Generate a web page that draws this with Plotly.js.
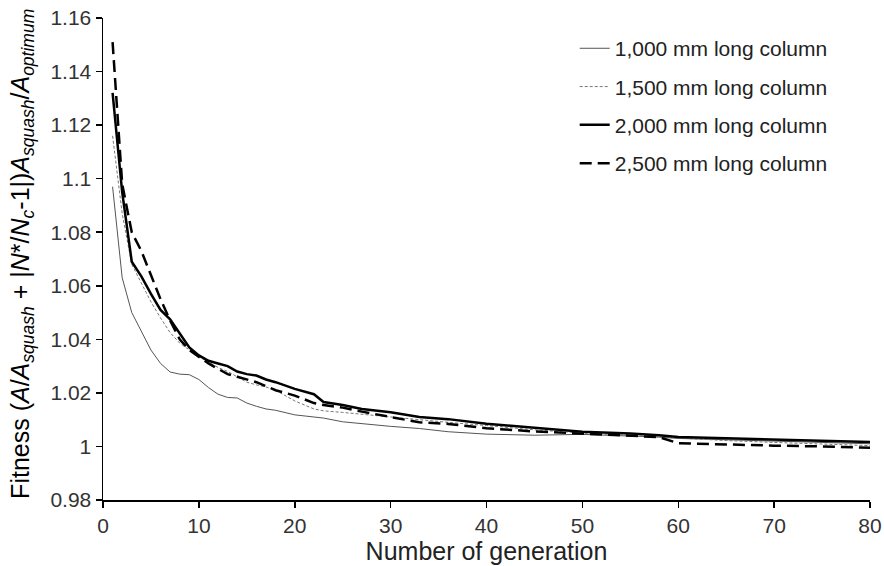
<!DOCTYPE html>
<html>
<head>
<meta charset="utf-8">
<script src="https://cdn.plot.ly/plotly-3.0.1.min.js"></script>
<style>html,body{margin:0;padding:0;background:#fff;}#chart{width:884px;height:566px;}</style>
</head>
<body>
<div id="chart"></div>
<script>
const generations = [1,2,3,4,5,6,7,8,9,10,11,12,13,14,15,16,17,18,20,22,23,25,27,30,33,36,40,45,50,55,58,60,65,70,75,80];
const col1000 = [1.097,1.063,1.050,1.043,1.036,1.031,1.0278,1.027,1.0268,1.025,1.022,1.0195,1.0183,1.0181,1.0162,1.015,1.014,1.0135,1.0118,1.011,1.0106,1.0092,1.0085,1.0075,1.0067,1.0055,1.0046,1.0042,1.0045,1.004,1.0035,1.003,1.0025,1.002,1.0015,1.001];
const col1500 = [1.116,1.087,1.068,1.061,1.054,1.048,1.0425,1.0386,1.036,1.0335,1.0315,1.0295,1.028,1.026,1.024,1.023,1.0222,1.021,1.017,1.014,1.0133,1.0127,1.012,1.0112,1.010,1.009,1.0078,1.0062,1.005,1.004,1.0035,1.003,1.0022,1.0015,1.001,1.0003];
const col2000 = [1.132,1.095,1.069,1.0635,1.057,1.051,1.0475,1.042,1.037,1.034,1.032,1.031,1.030,1.028,1.027,1.0265,1.025,1.024,1.0215,1.0195,1.0166,1.0155,1.014,1.0128,1.011,1.0102,1.0085,1.007,1.0055,1.0048,1.0042,1.0035,1.003,1.0025,1.002,1.0017];
const col2500 = [1.151,1.098,1.080,1.073,1.064,1.055,1.047,1.040,1.036,1.0335,1.031,1.029,1.027,1.026,1.025,1.024,1.0225,1.021,1.019,1.0162,1.0155,1.0145,1.013,1.011,1.009,1.0084,1.0068,1.0056,1.0048,1.004,1.0035,1.0012,1.0007,1.0003,1.0,0.9995];
const seriesNames = ['1,000 mm long column','1,500 mm long column','2,000 mm long column','2,500 mm long column'];
const xTicks = [0,10,20,30,40,50,60,70,80];
const yTicks = [0.98,1,1.02,1.04,1.06,1.08,1.1,1.12,1.14,1.16];
const yTickText = ['0.98','1','1.02','1.04','1.06','1.08','1.1','1.12','1.14','1.16'];
const yTitle = 'Fitness (<i>A</i>/<i>A</i><sub><i>squash</i></sub> + |<i>N</i>*/<i>N</i><sub><i>c</i></sub>-1|)<i>A</i><sub><i>squash</i></sub>/<i>A</i><sub><i>optimum</i></sub>';

const styles = [
  {color:'#555555', width:1, dash:'solid'},
  {color:'#777777', width:1, dash:'3px,2px'},
  {color:'#000000', width:2.5, dash:'solid'},
  {color:'#000000', width:2.5, dash:'12px,6px'}
];
const ys = [col1000,col1500,col2000,col2500];
const traces = ys.map((y,i)=>({
  x: generations, y: y, type:'scatter', mode:'lines', name: seriesNames[i],
  line: styles[i], legendgroup: 'g'+i
}));

const layout = {
  width:884, height:566,
  margin:{l:103, r:14, t:18, b:66},
  paper_bgcolor:'#fff', plot_bgcolor:'#fff',
  font:{family:'Liberation Sans, Arial, sans-serif', color:'#222'},
  showlegend:true,
  legend:{x:0.615, y:0.979, xanchor:'left', yanchor:'top', font:{size:21, color:'#222'},
    bgcolor:'rgba(0,0,0,0)', tracegroupgap:8, traceorder:'grouped'},
  xaxis:{range:[0,80], tickvals:xTicks, ticktext:xTicks.map(String), showgrid:false, zeroline:false,
    showline:true, linecolor:'#000', linewidth:1.5, ticks:'outside', ticklen:6, tickcolor:'#000', tickwidth:1.5,
    tickfont:{size:21, color:'#333'},
    title:{text:'Number of generation', font:{size:25, color:'#222'}, standoff:0}},
  yaxis:{range:[0.98,1.16], tickvals:yTicks, ticktext:yTickText, showgrid:false, zeroline:false,
    showline:true, linecolor:'#000', linewidth:1.5, ticks:'outside', ticklen:6, tickcolor:'#000', tickwidth:1.5,
    tickfont:{size:21, color:'#333'}},
  annotations:[{text:yTitle, xref:'paper', yref:'paper', x:-0.106, y:0.51, xanchor:'center', yanchor:'middle',
    textangle:-90, showarrow:false, font:{size:25, color:'#000'}}]
};
Plotly.newPlot('chart', traces, layout, {staticPlot:true, displayModeBar:false});
</script>
</body>
</html>
